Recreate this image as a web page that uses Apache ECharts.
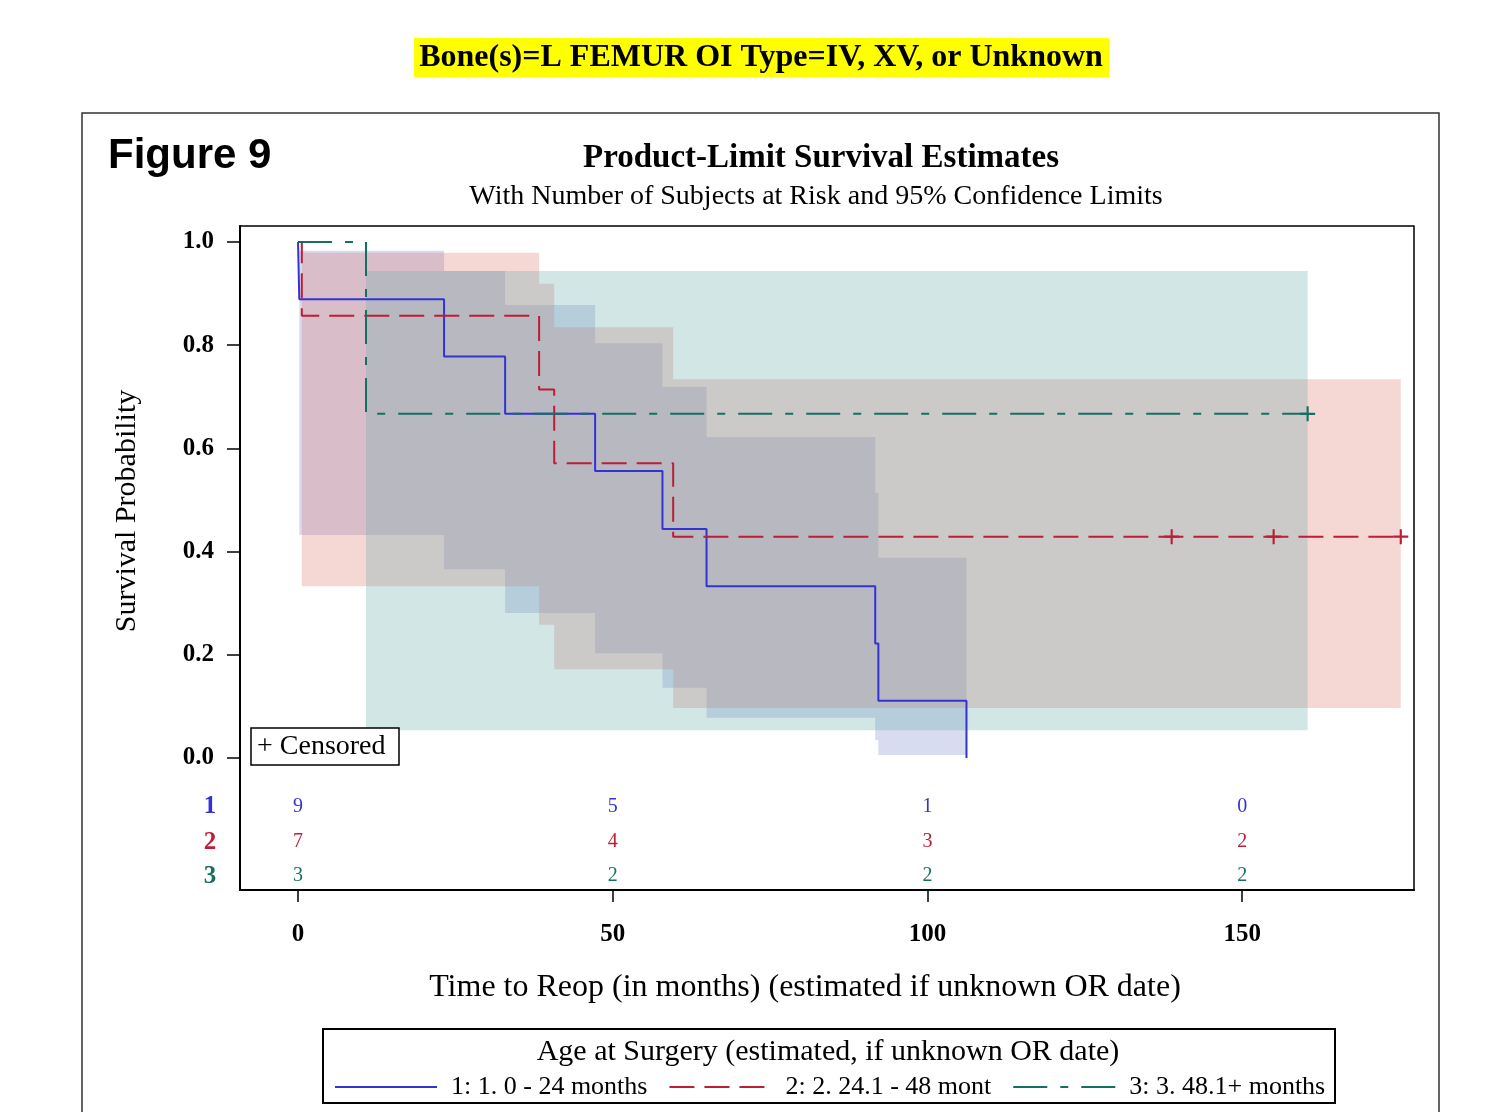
<!DOCTYPE html>
<html>
<head>
<meta charset="utf-8">
<script src="https://cdn.jsdelivr.net/npm/echarts@6/dist/echarts.min.js"></script>
<style>
  html, body { margin: 0; padding: 0; background: #fff; }
  #chart { width: 1486px; height: 1112px; }
</style>
</head>
<body>
<div id="chart"></div>
<script>
// Kaplan-Meier estimates, L femur, by age at surgery
const groupNames = ['1: 1. 0 - 24 months', '2: 2. 24.1 - 48 mont', '3: 3. 48.1+ months'];

// step curves: [time, survival after that time]
const curve1 = [[0, 1], [0.2, 0.889], [23.2, 0.778], [32.9, 0.667], [47.2, 0.556], [57.9, 0.444], [64.9, 0.333], [91.7, 0.222], [92.2, 0.111], [106.2, 0]];
const curve2 = [[0, 1], [0.6, 0.857], [38.3, 0.714], [40.7, 0.571], [59.6, 0.429], [175.2, 0.429]];
const curve3 = [[0, 1], [10.8, 0.667], [160.4, 0.667]];

// censored observations
const censored2 = [[138.8, 0.429], [155.0, 0.429], [175.2, 0.429]];
const censored3 = [[160.4, 0.667]];

// 95% confidence limits: interval edges, then upper / lower limit per interval
const bandTimes1 = [0.2, 23.2, 32.9, 47.2, 57.9, 64.9, 91.7, 92.2, 106.2];
const bandUpper1 = [0.983, 0.944, 0.878, 0.804, 0.719, 0.622, 0.514, 0.388];
const bandLower1 = [0.432, 0.366, 0.281, 0.203, 0.136, 0.078, 0.035, 0.006];
const bandTimes2 = [0.6, 38.3, 40.7, 59.6, 175.2];
const bandUpper2 = [0.979, 0.919, 0.835, 0.734];
const bandLower2 = [0.333, 0.258, 0.172, 0.097];
const bandTimes3 = [10.8, 160.4];
const bandUpper3 = [0.944];
const bandLower3 = [0.054];

// number of subjects at risk
const riskTimes = [0, 50, 100, 150];
const atRisk1 = [9, 5, 1, 0];
const atRisk2 = [7, 4, 3, 2];
const atRisk3 = [3, 2, 2, 2];

// axis ticks
const xTicks = [0, 50, 100, 150];
const yTicks = [0, 0.2, 0.4, 0.6, 0.8, 1.0];

const SERIF = "'Liberation Serif', 'DejaVu Serif', serif";
const SANS = "'Liberation Sans', Arial, sans-serif";
const lineColors = ['#3333d4', '#bd1e36', '#176e62'];
const bandColors = ['rgba(122,138,205,0.3)', 'rgba(222,122,112,0.3)', 'rgba(105,172,172,0.3)'];
const dashes = ['solid', [25, 10], [34, 13, 8, 13]];
const plusPath = 'path://M6,0h2v6h6v2h-6v6h-2v-6h-6v-2h6z';

function bandSeries(times, upper, lower, color) {
  return {
    type: 'custom',
    silent: true,
    z: 1,
    data: [[times[0], upper[0]]],
    renderItem: function (params, api) {
      const pts = [];
      for (let i = 0; i < upper.length; i++) {
        pts.push(api.coord([times[i], upper[i]]));
        pts.push(api.coord([times[i + 1], upper[i]]));
      }
      for (let i = upper.length - 1; i >= 0; i--) {
        pts.push(api.coord([times[i + 1], lower[i]]));
        pts.push(api.coord([times[i], lower[i]]));
      }
      return { type: 'polygon', shape: { points: pts }, style: { fill: color } };
    }
  };
}

function curveSeries(name, data, idx) {
  return {
    name: name, type: 'line', step: 'end', data: data, symbol: 'none', z: 3,
    lineStyle: { color: lineColors[idx], width: 2, type: dashes[idx] },
    itemStyle: { color: lineColors[idx] }
  };
}

function censorSeries(data, idx) {
  return {
    type: 'scatter', data: data, symbol: plusPath, symbolSize: 15, z: 4, silent: true,
    itemStyle: { color: lineColors[idx], opacity: 1 }
  };
}

// rows of the at-risk table sit below the survival scale
const riskRowY = [-0.095, -0.163, -0.229];
function riskSeries(counts, idx) {
  return {
    type: 'scatter', silent: true, z: 4, symbolSize: 1,
    itemStyle: { color: 'rgba(0,0,0,0)', opacity: 1 },
    data: riskTimes.map((t, i) => [t, riskRowY[idx], counts[i]]),
    label: {
      show: true, position: 'inside', formatter: p => String(p.value[2]), opacity: 1,
      color: lineColors[idx], fontFamily: SERIF, fontSize: 20
    }
  };
}
function rowLabelSeries(idx) {
  return {
    type: 'scatter', silent: true, z: 4, symbolSize: 1, clip: false,
    itemStyle: { color: 'rgba(0,0,0,0)', opacity: 1 },
    data: [[-14.0, riskRowY[idx], idx + 1]],
    label: {
      show: true, position: 'inside', formatter: p => String(p.value[2]), opacity: 1,
      color: lineColors[idx], fontFamily: SERIF, fontSize: 25, fontWeight: 'bold'
    }
  };
}

function txt(text, x, y, font, opts) {
  const o = Object.assign({ align: 'center', v: 'middle', fill: '#000', rotation: 0 }, opts || {});
  return {
    type: 'text', x: x, y: y, rotation: o.rotation, z: 10,
    style: {
      text: text, font: font, fill: o.fill,
      align: o.align, textAlign: o.align,
      verticalAlign: o.v, textVerticalAlign: o.v
    }
  };
}

const chart = echarts.init(document.getElementById('chart'), null, { renderer: 'canvas' });
chart.setOption({
  backgroundColor: '#fff',
  animation: false,
  grid: {
    left: 240, top: 226, width: 1174, height: 664,
    show: true, borderColor: '#000', borderWidth: 1.5, backgroundColor: 'transparent'
  },
  xAxis: {
    type: 'value', min: -9.22, max: 177.3,
    axisLine: { show: true, onZero: false, lineStyle: { color: '#000', width: 2 } },
    axisTick: { show: true, customValues: xTicks, length: 12, inside: false, lineStyle: { color: '#000', width: 1.5 } },
    axisLabel: { customValues: xTicks, margin: 32, color: '#000', fontFamily: SERIF, fontSize: 25, fontWeight: 'bold' },
    splitLine: { show: false }
  },
  yAxis: {
    type: 'value', min: -0.2558, max: 1.031,
    axisLine: { show: true, onZero: false, lineStyle: { color: '#000', width: 2 } },
    axisTick: { show: true, customValues: yTicks, length: 13, inside: false, lineStyle: { color: '#000', width: 1.5 } },
    axisLabel: { customValues: yTicks, margin: 26, color: '#000', fontFamily: SERIF, fontSize: 25, fontWeight: 'bold',
      formatter: v => Number(v).toFixed(1) },
    splitLine: { show: false }
  },
  legend: {
    data: groupNames, left: 329, top: 1069, itemWidth: 102, itemHeight: 14, itemGap: 21,
    selectedMode: false,
    itemStyle: { opacity: 0 },
    textStyle: { fontFamily: SERIF, fontSize: 26, color: '#000', padding: [0, 0, 0, 9] }
  },
  series: [
    bandSeries(bandTimes1, bandUpper1, bandLower1, bandColors[0]),
    bandSeries(bandTimes2, bandUpper2, bandLower2, bandColors[1]),
    bandSeries(bandTimes3, bandUpper3, bandLower3, bandColors[2]),
    curveSeries(groupNames[0], curve1, 0),
    curveSeries(groupNames[1], curve2, 1),
    curveSeries(groupNames[2], curve3, 2),
    censorSeries(censored2, 1),
    censorSeries(censored3, 2),
    riskSeries(atRisk1, 0),
    riskSeries(atRisk2, 1),
    riskSeries(atRisk3, 2),
    rowLabelSeries(0),
    rowLabelSeries(1),
    rowLabelSeries(2)
  ],
  graphic: [
    // highlighted page heading
    { type: 'rect', shape: { x: 414, y: 38, width: 695, height: 39 }, style: { fill: '#ffff00' }, z: 9 },
    txt('Bone(s)=L FEMUR OI Type=IV, XV, or Unknown', 761, 58, 'bold 32px ' + SERIF),
    // figure frame
    { type: 'rect', shape: { x: 82, y: 113, width: 1357, height: 1020 }, style: { fill: 'none', stroke: '#333', lineWidth: 1.5 }, z: 9 },
    txt('Figure 9', 108, 156, 'bold 42px ' + SANS, { align: 'left' }),
    txt('Product-Limit Survival Estimates', 821, 158, 'bold 33px ' + SERIF),
    txt('With Number of Subjects at Risk and 95% Confidence Limits', 816, 197, '28px ' + SERIF),
    txt('Survival Probability', 127, 511, '30px ' + SERIF, { rotation: Math.PI / 2 }),
    txt('Time to Reop (in months) (estimated if unknown OR date)', 805, 988, '32px ' + SERIF),
    // censored key inside the plot
    { type: 'rect', shape: { x: 251, y: 728, width: 148, height: 37 }, style: { fill: '#fff', stroke: '#000', lineWidth: 1.5 }, z: 9 },
    txt('+ Censored', 257, 747, '28px ' + SERIF, { align: 'left' }),
    // group legend box
    { type: 'rect', shape: { x: 323, y: 1029, width: 1012, height: 74 }, style: { fill: 'none', stroke: '#000', lineWidth: 2 }, z: 9 },
    txt('Age at Surgery (estimated, if unknown OR date)', 828, 1052, '30px ' + SERIF)
  ]
});
</script>
</body>
</html>
